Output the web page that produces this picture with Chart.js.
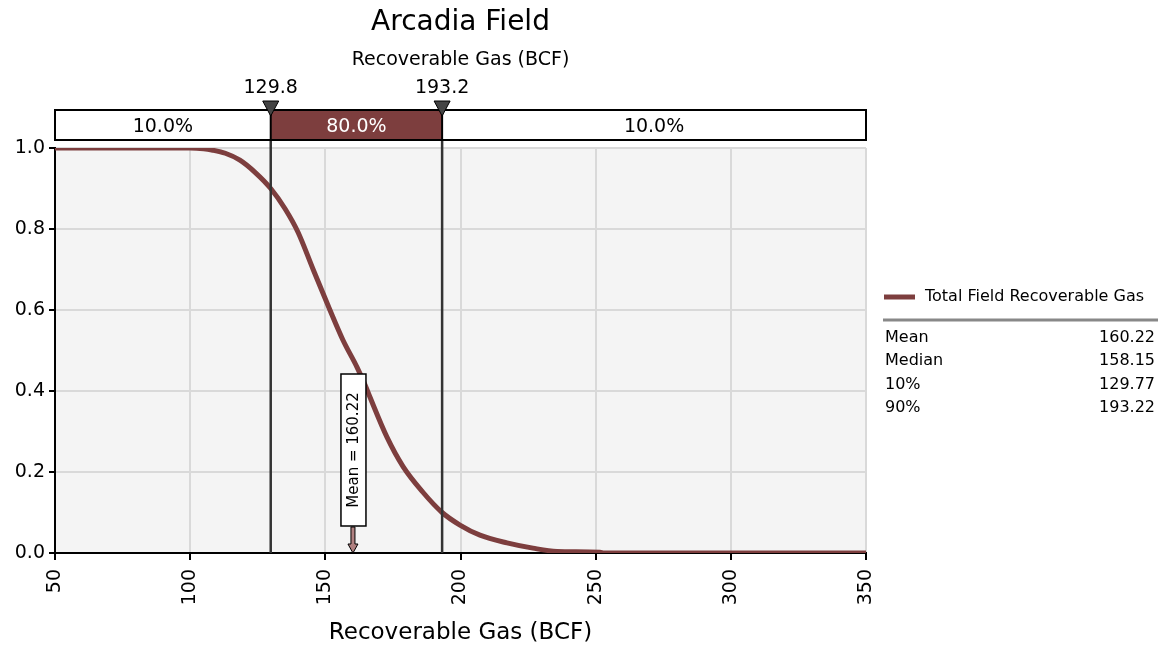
<!DOCTYPE html>
<html>
<head>
<meta charset="utf-8">
<script src="https://cdn.jsdelivr.net/npm/chart.js@4/dist/chart.umd.min.js"></script>
<style>
body{margin:0;background:#fff}
#wrap{width:1164px;height:651px;position:relative}
</style>
</head>
<body>
<div id="wrap"><canvas id="myChart" width="1164" height="651"></canvas></div>
<script>
// exceedance probability curve
let gasValues = [50, 100, 105, 108, 113, 118.4, 124, 129.8, 135.1, 139.9, 145.5, 151.7, 156.5, 161.7, 164.7, 166.5, 172.8, 178.7, 186.1, 193.2, 199.8, 207.2, 217.2, 226.8, 235.7, 251.6, 253, 350]
let probValues = [1.0, 1.0, 0.998, 0.995, 0.987, 0.97, 0.94, 0.9, 0.85, 0.792, 0.7, 0.6, 0.526, 0.459, 0.415, 0.385, 0.286, 0.214, 0.15, 0.1, 0.069, 0.044, 0.025, 0.012, 0.004, 0.002, 0, 0]

let seriesName = "Total Field Recoverable Gas"
let statNames = ["Mean", "Median", "10%", "90%"]
let statValues = ["160.22", "158.15", "129.77", "193.22"]
let bandEdges = [129.8, 193.2]
let bandLabels = ["10.0%", "80.0%", "10.0%"]
let meanValue = 160.22

let titleText = "Arcadia Field"
let subtitleText = "Recoverable Gas (BCF)"
let xTitle = "Recoverable Gas (BCF)"

const FONT = "'DejaVu Sans', sans-serif"
const RED = "#7d3e3e"

let points = gasValues.map((x, i) => ({x: x, y: probValues[i]}))

const decor = {
    id: "decor",
    beforeDraw(chart) {
        let ctx = chart.ctx
        let a = chart.chartArea
        ctx.save()
        ctx.fillStyle = "#f4f4f4"
        ctx.fillRect(a.left, a.top, a.right - a.left, a.bottom - a.top)
        ctx.restore()
    },
    afterDatasetsDraw(chart) {
        let ctx = chart.ctx
        let a = chart.chartArea
        let xs = chart.scales.x
        let x1 = xs.getPixelForValue(bandEdges[0])
        let x2 = xs.getPixelForValue(bandEdges[1])
        ctx.save()

        // vertical percentile lines
        ctx.strokeStyle = "#333"
        ctx.lineWidth = 2.5
        ;[x1, x2].forEach(px => {
            ctx.beginPath()
            ctx.moveTo(px, 140)
            ctx.lineTo(px, a.bottom)
            ctx.stroke()
        })

        // band above the plot
        let top = 110, bot = 140
        ctx.fillStyle = "#fff"
        ctx.fillRect(a.left, top, a.right - a.left, bot - top)
        ctx.fillStyle = RED
        ctx.fillRect(x1, top, x2 - x1, bot - top)
        ctx.strokeStyle = "#000"
        ctx.lineWidth = 2
        ctx.strokeRect(a.left, top, a.right - a.left, bot - top)
        ctx.beginPath()
        ctx.moveTo(x1, top); ctx.lineTo(x1, bot)
        ctx.moveTo(x2, top); ctx.lineTo(x2, bot)
        ctx.stroke()

        ctx.font = "19px " + FONT
        ctx.textAlign = "center"
        ctx.textBaseline = "middle"
        let mids = [(a.left + x1) / 2, (x1 + x2) / 2, (x2 + a.right) / 2]
        mids.forEach((m, i) => {
            ctx.fillStyle = i == 1 ? "#fff" : "#000"
            ctx.fillText(bandLabels[i], m, 127)
        })

        // markers
        ;[x1, x2].forEach((px, i) => {
            ctx.fillStyle = "#444"
            ctx.strokeStyle = "#000"
            ctx.lineWidth = 1
            ctx.beginPath()
            ctx.moveTo(px - 8, 101)
            ctx.lineTo(px + 8, 101)
            ctx.lineTo(px, 116)
            ctx.closePath()
            ctx.fill()
            ctx.stroke()
            ctx.fillStyle = "#000"
            ctx.fillText(bandEdges[i].toFixed(1), px, 88)
        })

        // mean marker
        let mx = xs.getPixelForValue(meanValue)
        ctx.fillStyle = "#fff"
        ctx.fillRect(mx - 12, 374, 25, 152)
        ctx.strokeStyle = "#000"
        ctx.lineWidth = 1.5
        ctx.strokeRect(mx - 12, 374, 25, 152)
        ctx.save()
        ctx.translate(mx + 1, 450)
        ctx.rotate(-Math.PI / 2)
        ctx.fillStyle = "#000"
        ctx.font = "15px " + FONT
        ctx.fillText("Mean = " + meanValue.toFixed(2), 0, 0)
        ctx.restore()
        ctx.fillStyle = "#b08080"
        ctx.strokeStyle = "#000"
        ctx.lineWidth = 1
        ctx.beginPath()
        ctx.moveTo(mx - 2, 527)
        ctx.lineTo(mx + 2, 527)
        ctx.lineTo(mx + 2, 544)
        ctx.lineTo(mx + 5, 544)
        ctx.lineTo(mx, a.bottom)
        ctx.lineTo(mx - 5, 544)
        ctx.lineTo(mx - 2, 544)
        ctx.closePath()
        ctx.fill()
        ctx.stroke()

        // titles
        ctx.fillStyle = "#000"
        let cx = (a.left + a.right) / 2
        ctx.font = "28px " + FONT
        ctx.fillText(titleText, cx, 23)
        ctx.font = "19px " + FONT
        ctx.fillText(subtitleText, cx, 60)
        ctx.font = "23px " + FONT
        ctx.fillText(xTitle, cx, 633)

        // legend and stats
        ctx.strokeStyle = RED
        ctx.lineWidth = 5
        ctx.beginPath()
        ctx.moveTo(884, 297)
        ctx.lineTo(915, 297)
        ctx.stroke()
        ctx.textAlign = "left"
        ctx.font = "16px " + FONT
        ctx.fillText(seriesName, 925, 297)
        ctx.strokeStyle = "#888"
        ctx.lineWidth = 3
        ctx.beginPath()
        ctx.moveTo(883, 320)
        ctx.lineTo(1158, 320)
        ctx.stroke()
        statNames.forEach((n, i) => {
            let y = 338 + i * 23.3
            ctx.textAlign = "left"
            ctx.fillText(n, 885, y)
            ctx.textAlign = "right"
            ctx.fillText(statValues[i], 1155, y)
        })
        ctx.restore()
    }
}

const ctx = document.getElementById('myChart')
const myChart = new Chart(ctx, {
    type: 'line',
    data: {
        datasets: [{
            label: seriesName,
            data: points,
            borderColor: RED,
            borderWidth: 5,
            pointRadius: 0,
            cubicInterpolationMode: 'monotone',
            fill: false
        }]
    },
    options: {
        responsive: false,
        animation: false,
        layout: {padding: {left: 0, top: 148, right: 298, bottom: 0}},
        plugins: {
            legend: {display: false},
            tooltip: {enabled: false}
        },
        scales: {
            x: {
                type: 'linear',
                min: 50,
                max: 350,
                afterFit: s => { s.height = 98 },
                ticks: {
                    stepSize: 50,
                    minRotation: 90,
                    maxRotation: 90,
                    color: '#000',
                    padding: 9,
                    font: {family: FONT, size: 19}
                },
                grid: {color: '#d9d9d9', lineWidth: 2, tickColor: '#000', tickLength: 7, tickWidth: 2},
                border: {color: '#000', width: 2}
            },
            y: {
                min: 0,
                max: 1,
                afterFit: s => { s.width = 55 },
                ticks: {
                    stepSize: 0.2,
                    color: '#000',
                    padding: 4,
                    font: {family: FONT, size: 19},
                    callback: v => v.toFixed(1)
                },
                grid: {color: '#d9d9d9', lineWidth: 2, tickColor: '#000', tickLength: 6, tickWidth: 2},
                border: {color: '#000', width: 2}
            }
        }
    },
    plugins: [decor]
})
</script>
</body>
</html>
